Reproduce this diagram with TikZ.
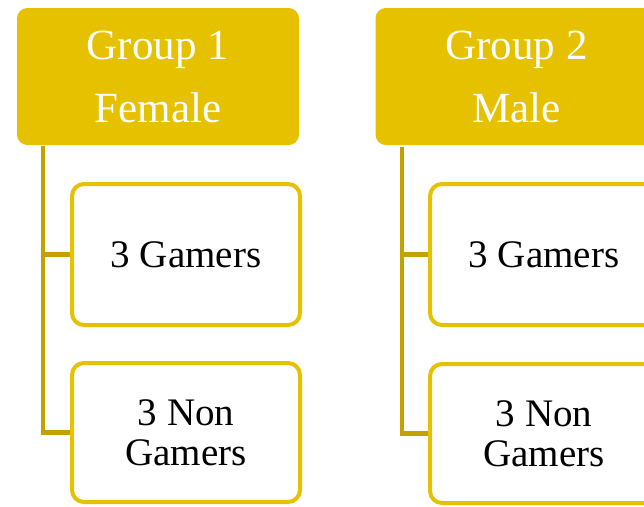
\documentclass[tikz,border=0pt]{standalone}
\usepackage{fontspec}
\setmainfont{Liberation Serif}
\definecolor{gold}{RGB}{230,193,0}
\definecolor{darkgold}{RGB}{197,161,0}
\begin{document}
\begin{tikzpicture}[x=1pt,y=-1pt,
  header/.style={draw=gold,fill=gold,line width=1pt,rounded corners=10pt,
    minimum width=281pt,minimum height=136pt,inner sep=0pt,text=white,
    align=center,font=\fontsize{43}{63}\selectfont},
  child/.style={draw=gold,fill=white,line width=4pt,rounded corners=12pt,
    minimum width=228pt,inner sep=0pt,text=black,
    align=center,font=\fontsize{39}{40}\selectfont},
  link/.style={draw=darkgold,line width=4.5pt}]
\clip (0,0) rectangle (644,506);
\fill[white] (0,0) rectangle (644,506);
% Group 1
\node[header] (h1) at (158,76.5) {Group 1\\Female};
\node[child,minimum height=141pt] (c11) at (186,254.5) {3 Gamers};
\node[child,minimum height=139pt] (c12) at (186,432.5) {3 Non\\Gamers};
\coordinate (t1) at (43,146);
\draw[link] (t1) |- (c12.west);
\draw[link] (t1 |- c11.west) -- (c11.west);
% Group 2
\node[header] (h2) at (516.5,76.5) {Group 2\\Male};
\node[child,minimum height=141pt] (c21) at (544,254.5) {3 Gamers};
\node[child,minimum height=139pt] (c22) at (544,433.5) {3 Non\\Gamers};
\coordinate (t2) at (402,147);
\draw[link] (t2) |- (c22.west);
\draw[link] (t2 |- c21.west) -- (c21.west);
\end{tikzpicture}
\end{document}
